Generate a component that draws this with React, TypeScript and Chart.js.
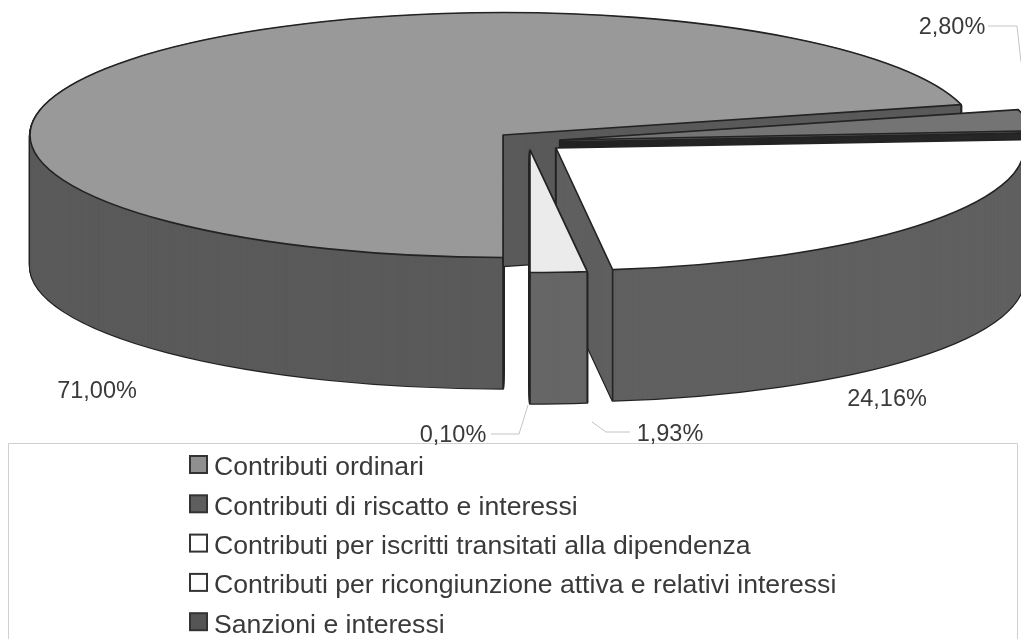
import React, { useEffect, useRef } from "react";
import { Chart, registerables } from "chart.js";

Chart.register(...registerables);

const sliceLabels = [
  "Contributi ordinari",
  "Contributi di riscatto e interessi",
  "Contributi per iscritti transitati alla dipendenza",
  "Contributi per ricongiunzione attiva e relativi interessi",
  "Sanzioni e interessi",
];
const sliceValues = [71.0, 2.8, 0.1, 24.16, 1.93];

const topColors = ["#999999", "#747474", "#ffffff", "#ffffff", "#ebebeb"];
const sideColors = ["#5a5a5a", "#5a5a5a", "#2a2a2a", "#606060", "#666666"];
const swatchColors = ["#8f8f8f", "#5e5e5e", "#ffffff", "#fdfdfd", "#555555"];

// Where each exploded slice's apex sits on the page, and its horizontal radius.
const apexX = [503, 560, 560, 556, 530];
const apexY = [135, 140, 142, 148, 150];
const radiusX = [473, 473, 473, 468, 473];
const labelX = [97, 952, 453, 887, 670];
const labelY = [392, 28, 436, 400, 435];

const RY = 122.5;
const DEPTH = 131;
const INK = "#232323";

const leaders = [
  [[988, 26], [1017, 26], [1021, 62]],
  [[491, 434], [519, 434], [528, 405]],
  [[630, 432], [606, 432], [592, 422]],
];

const pie3d = {
  id: "pie3d",
  beforeDatasetsDraw(chart: any) {
    const ctx = chart.ctx;
    const arcs = chart.getDatasetMeta(0).data;
    const nativeStroke = ctx.stroke;
    ctx.stroke = function () {
      ctx.save();
      ctx.setTransform(1, 0, 0, 1, 0, 0);
      nativeStroke.call(ctx);
      ctx.restore();
    };
    arcs.forEach((arc: any, i: number) => {
      const base = arc.options;
      const rx = radiusX[i];
      const sx = rx / arc.outerRadius;
      const sy = RY / arc.outerRadius;
      const place = (dy: number) =>
        ctx.setTransform(sx, 0, 0, sy, apexX[i] - sx * arc.x, apexY[i] + dy - sy * arc.y);
      ctx.save();
      arc.options = { ...base, backgroundColor: INK, borderColor: INK, borderWidth: 2.4, borderJoinStyle: "round" };
      for (let d = DEPTH; d > 0; d--) {
        place(d);
        arc.draw(ctx);
      }
      arc.options = { ...base, backgroundColor: sideColors[i], borderWidth: 0 };
      for (let d = DEPTH; d > 0; d--) {
        place(d);
        arc.draw(ctx);
      }
      ctx.setTransform(1, 0, 0, 1, 0, 0);
      ctx.strokeStyle = INK;
      ctx.lineWidth = 1.6;
      const ends = [
        [apexX[i], apexY[i]],
        [apexX[i] + rx * Math.cos(arc.startAngle), apexY[i] + RY * Math.sin(arc.startAngle)],
        [apexX[i] + rx * Math.cos(arc.endAngle), apexY[i] + RY * Math.sin(arc.endAngle)],
      ];
      ends.forEach(([x, y]) => {
        ctx.beginPath();
        ctx.moveTo(x, y);
        ctx.lineTo(x, y + DEPTH);
        nativeStroke.call(ctx);
      });
      arc.options = { ...base, borderWidth: 1.6, borderColor: INK, borderJoinStyle: "round" };
      place(0);
      arc.draw(ctx);
      arc.options = base;
      ctx.restore();
    });
    delete ctx.stroke;
    return false;
  },
  afterDraw(chart: any) {
    const ctx = chart.ctx;
    ctx.save();
    ctx.setTransform(1, 0, 0, 1, 0, 0);

    ctx.strokeStyle = "#c4c4c4";
    ctx.lineWidth = 1;
    leaders.forEach((pts) => {
      ctx.beginPath();
      pts.forEach(([x, y], k) => (k ? ctx.lineTo(x, y) : ctx.moveTo(x, y)));
      ctx.stroke();
    });
    ctx.strokeStyle = "#d0d0d0";
    ctx.beginPath();
    ctx.moveTo(8.5, 639);
    ctx.lineTo(8.5, 443.5);
    ctx.lineTo(1017.5, 443.5);
    ctx.lineTo(1017.5, 639);
    ctx.stroke();

    ctx.font = '23.5px "Liberation Sans", Arial, sans-serif';
    ctx.fillStyle = "#3a3a3a";
    ctx.textAlign = "center";
    ctx.textBaseline = "middle";
    sliceValues.forEach((v, i) => {
      ctx.fillText(v.toFixed(2).replace(".", ",") + "%", labelX[i], labelY[i]);
    });

    ctx.font = '26.6px "Liberation Sans", Arial, sans-serif';
    ctx.textAlign = "left";
    sliceLabels.forEach((label, i) => {
      const y = 466 + i * 39.3;
      ctx.fillStyle = swatchColors[i];
      ctx.strokeStyle = "#333333";
      ctx.lineWidth = 2;
      ctx.fillRect(190, y - 10, 17, 17);
      ctx.strokeRect(190, y - 10, 17, 17);
      ctx.fillStyle = "#3a3a3a";
      ctx.fillText(label, 214, y + 2);
    });
    ctx.restore();
  },
};

export default function App() {
  const ref = useRef<HTMLCanvasElement | null>(null);
  useEffect(() => {
    const chart = new Chart(ref.current as HTMLCanvasElement, {
      type: "pie",
      data: {
        labels: sliceLabels,
        datasets: [{ data: sliceValues, backgroundColor: topColors, borderWidth: 0, clip: false } as any],
      },
      options: {
        responsive: false,
        animation: false,
        rotation: 180,
        layout: { padding: 0 },
        plugins: { legend: { display: false }, tooltip: { enabled: false } },
      } as any,
      plugins: [pie3d as any],
    });
    return () => chart.destroy();
  }, []);
  return (
    <div style={{ position: "absolute", left: 0, top: 0, width: 1021, height: 639, overflow: "hidden", background: "#fff" }}>
      <canvas ref={ref} width={1021} height={639} style={{ display: "block" }} />
    </div>
  );
}
